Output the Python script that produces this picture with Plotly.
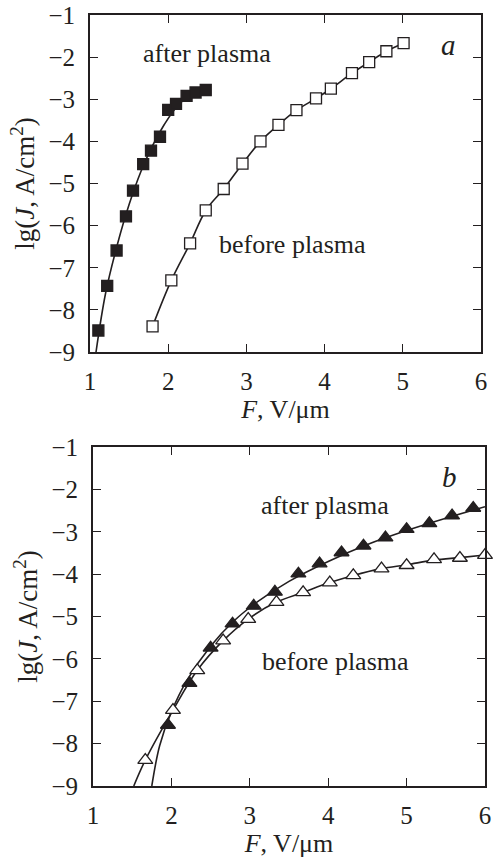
import plotly.graph_objects as go

# ---- Panel a (squares) ----
a_after_F = [1.107, 1.22, 1.34, 1.46, 1.55, 1.68, 1.78, 1.895, 2.0, 2.1, 2.235, 2.35, 2.48]
a_after_lgJ = [-8.49, -7.43, -6.59, -5.78, -5.17, -4.54, -4.22, -3.89, -3.25, -3.11, -2.92, -2.84, -2.78]
a_after_fit_F = [1.077, 1.2, 1.35, 1.5, 1.65, 1.8, 1.95, 2.1, 2.25, 2.48]
a_after_fit_lgJ = [-9.0, -7.6, -6.45, -5.5, -4.72, -4.1, -3.6, -3.2, -2.95, -2.78]

a_before_F = [1.80, 2.04, 2.28, 2.48, 2.71, 2.95, 3.18, 3.41, 3.64, 3.89, 4.08, 4.35, 4.57, 4.79, 5.01]
a_before_lgJ = [-8.39, -7.30, -6.42, -5.64, -5.13, -4.53, -4.00, -3.61, -3.26, -2.98, -2.75, -2.38, -2.12, -1.86, -1.67]

# ---- Panel b (triangles) ----
b_after_F = [1.956, 2.23, 2.50, 2.78, 3.05, 3.32, 3.62, 3.89, 4.17, 4.45, 4.73, 5.0, 5.29, 5.58, 5.85]
b_after_lgJ = [-7.56, -6.57, -5.74, -5.17, -4.75, -4.42, -3.99, -3.75, -3.49, -3.33, -3.14, -2.94, -2.80, -2.62, -2.44]
b_after_fit_F = [1.75, 1.85, 2.0, 2.2, 2.5, 2.8, 3.1, 3.5, 4.0, 4.5, 5.0, 5.5, 6.0]
b_after_fit_lgJ = [-9.0, -8.05, -7.25, -6.5, -5.7, -5.1, -4.65, -4.17, -3.7, -3.3, -2.97, -2.68, -2.41]

b_before_F = [1.667, 2.02, 2.33, 2.66, 2.98, 3.34, 3.68, 4.02, 4.32, 4.68, 5.0, 5.35, 5.68, 6.0]
b_before_lgJ = [-8.39, -7.21, -6.27, -5.57, -5.06, -4.66, -4.43, -4.20, -4.03, -3.87, -3.79, -3.65, -3.62, -3.55]
b_before_fit_F = [1.52, 1.667, 2.02, 2.33, 2.66, 2.98, 3.34, 3.68, 4.02, 4.32, 4.68, 5.0, 5.35, 5.68, 6.0]
b_before_fit_lgJ = [-9.0, -8.39, -7.21, -6.27, -5.57, -5.06, -4.66, -4.43, -4.20, -4.03, -3.87, -3.78, -3.67, -3.61, -3.55]

x_ticks = [1, 2, 3, 4, 5, 6]
y_ticks = [-1, -2, -3, -4, -5, -6, -7, -8, -9]

FONT = "Times New Roman, Liberation Serif, DejaVu Serif, serif"
INK = "#231f20"
LW = 1.6
FS = 25

fig = go.Figure()

def curve(x, y, xa, ya):
    fig.add_trace(go.Scatter(x=x, y=y, mode="lines", line=dict(color=INK, width=LW, shape="spline"),
                             xaxis=xa, yaxis=ya, showlegend=False, hoverinfo="skip"))

def marks(x, y, xa, ya, symbol, fill, size):
    fig.add_trace(go.Scatter(x=x, y=y, mode="markers", xaxis=xa, yaxis=ya, showlegend=False,
                             cliponaxis=False,
                             marker=dict(symbol=symbol, size=size, color=fill,
                                         line=dict(color=INK, width=1.3))))

# panel a
curve(a_after_fit_F, a_after_fit_lgJ, "x", "y")
curve(a_before_F, a_before_lgJ, "x", "y")
marks(a_after_F, a_after_lgJ, "x", "y", "square", INK, 11)
marks(a_before_F, a_before_lgJ, "x", "y", "square", "white", 11)

# panel b
curve(b_after_fit_F, b_after_fit_lgJ, "x2", "y2")
curve(b_before_fit_F, b_before_fit_lgJ, "x2", "y2")
marks(b_after_F, b_after_lgJ, "x2", "y2", "triangle-up", INK, 13)
marks(b_before_F, b_before_lgJ, "x2", "y2", "triangle-up", "white", 13)

W, H = 493, 859


def xd(a, b):
    return [a / W, b / W]


def yd(top, bottom):
    return [1 - bottom / H, 1 - top / H]


axis_common = dict(
    showline=True, linecolor=INK, linewidth=2, mirror="ticks",
    ticks="inside", ticklen=8, tickwidth=1.3, tickcolor=INK,
    showgrid=False, zeroline=False, automargin=False,
    tickfont=dict(family=FONT, size=FS, color=INK),
)

xtitle = dict(text="<i>F</i>, V/μm", font=dict(family=FONT, size=FS + 1, color=INK), standoff=2)
ytitle = dict(text="lg(<i>J</i>, A/cm<sup>2</sup>)", font=dict(family=FONT, size=FS + 2, color=INK), standoff=6)

fig.update_layout(
    width=W, height=H,
    margin=dict(l=0, r=0, t=0, b=0),
    paper_bgcolor="white", plot_bgcolor="white",
    xaxis=dict(axis_common, domain=xd(90, 481), range=[1, 6], tickvals=x_ticks,
               anchor="y", title=xtitle, ticklabelstandoff=6),
    yaxis=dict(axis_common, domain=yd(15, 352), range=[-9, -1], tickvals=y_ticks,
               anchor="x", title=ytitle, ticklabelstandoff=8),
    xaxis2=dict(axis_common, domain=xd(93, 485), range=[1, 6], tickvals=x_ticks,
                anchor="y2", title=xtitle, ticklabelstandoff=6),
    yaxis2=dict(axis_common, domain=yd(447, 786), range=[-9, -1], tickvals=y_ticks,
                anchor="x2", title=ytitle, ticklabelstandoff=8),
)

ann_font = dict(family=FONT, size=26, color=INK)
annotations = [
    dict(x=2.5, y=-1.91, xref="x", yref="y", text="after plasma"),
    dict(x=3.59, y=-6.45, xref="x", yref="y", text="before plasma"),
    dict(x=5.58, y=-1.71, xref="x", yref="y", text="<i>a</i>", font=dict(family=FONT, size=29, color=INK)),
    dict(x=3.96, y=-2.37, xref="x2", yref="y2", text="after plasma"),
    dict(x=4.09, y=-6.07, xref="x2", yref="y2", text="before plasma"),
    dict(x=5.55, y=-1.71, xref="x2", yref="y2", text="<i>b</i>", font=dict(family=FONT, size=29, color=INK)),
]
for a in annotations:
    a.setdefault("font", ann_font)
    fig.add_annotation(showarrow=False, **a)

fig.write_html("out.html", config={"displayModeBar": False},
               post_script="document.body.style.margin='0px';")
